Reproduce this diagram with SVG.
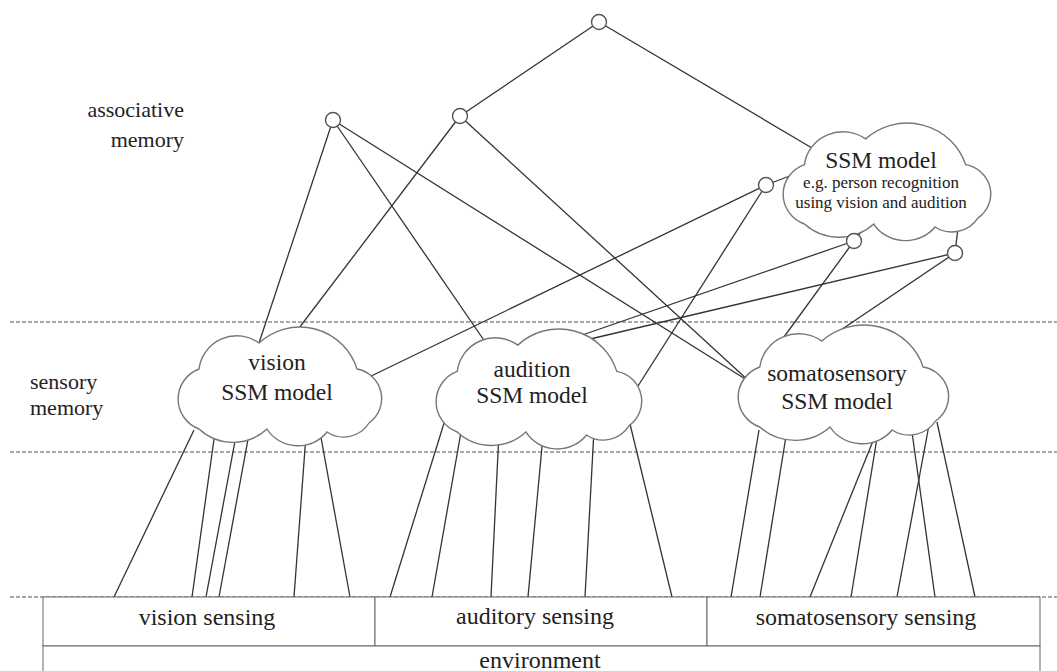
<svg xmlns="http://www.w3.org/2000/svg" width="1057" height="671" viewBox="0 0 1057 671" font-family="'Liberation Serif', serif">
<style>
.dash{stroke:#555;stroke-width:1.2;stroke-dasharray:4 2;fill:none}
.con{stroke:#333;stroke-width:1.3;fill:none}
.cloud{fill:#fff;stroke:#777;stroke-width:1.4}
.node{fill:#fff;stroke:#555;stroke-width:1.4}
.box{fill:#fff;stroke:#666;stroke-width:1}
.lbl{font-size:22px;fill:#222}
.big{font-size:23.5px;text-anchor:middle;fill:#222}
.sens{font-size:24px;text-anchor:middle;fill:#222}
.small{font-size:17px;text-anchor:middle;fill:#222}
</style>
<defs>
<path id="cloudShape" d="M22,38 A38,38 0 0 1 82,12 A60,60 0 0 1 180,38 A30,30 0 0 1 192,92 A30,30 0 0 1 150,101 A36,34 0 0 1 90,98 A50,50 0 0 1 22,98 A32,32 0 0 1 22,38 Z"/>
</defs>
<rect width="1057" height="671" fill="#fff"/>
<g id="layers">
<line class="dash" x1="10" y1="322" x2="1057" y2="322"/>
<line class="dash" x1="10" y1="452" x2="1057" y2="452"/>
<line class="dash" x1="10" y1="597" x2="1057" y2="597"/>
<text class="lbl" style="font-family:'Liberation Serif',serif" x="184" y="117" text-anchor="end">associative</text>
<text class="lbl" style="font-family:'Liberation Serif',serif" x="184" y="147" text-anchor="end">memory</text>
<text class="lbl" style="font-family:'Liberation Serif',serif" x="30" y="389">sensory</text>
<text class="lbl" style="font-family:'Liberation Serif',serif" x="30" y="415">memory</text>
</g>
<g id="connectors">
<line class="con" x1="599" y1="22" x2="460" y2="116"/>
<line class="con" x1="599" y1="22" x2="812" y2="148"/>
<line class="con" x1="460" y1="116" x2="293" y2="336"/>
<line class="con" x1="460" y1="116" x2="750" y2="382"/>
<line class="con" x1="333" y1="120" x2="258" y2="346"/>
<line class="con" x1="333" y1="120" x2="492" y2="352"/>
<line class="con" x1="333" y1="120" x2="750" y2="382"/>
<line class="con" x1="766" y1="185" x2="795" y2="174"/>
<line class="con" x1="766" y1="185" x2="365" y2="379"/>
<line class="con" x1="766" y1="185" x2="638" y2="386"/>
<line class="con" x1="854" y1="241" x2="870" y2="220"/>
<line class="con" x1="854" y1="241" x2="565" y2="341"/>
<line class="con" x1="854" y1="241" x2="781" y2="341"/>
<line class="con" x1="955" y1="253" x2="958" y2="228"/>
<line class="con" x1="955" y1="253" x2="586" y2="340"/>
<line class="con" x1="955" y1="253" x2="823" y2="342"/>
<line class="con" x1="114" y1="597" x2="194" y2="430"/>
<line class="con" x1="192" y1="597" x2="215" y2="432"/>
<line class="con" x1="206" y1="597" x2="238" y2="425"/>
<line class="con" x1="219" y1="597" x2="251" y2="423"/>
<line class="con" x1="294" y1="597" x2="306" y2="435"/>
<line class="con" x1="350" y1="597" x2="320" y2="432"/>
<line class="con" x1="390" y1="597" x2="445" y2="420"/>
<line class="con" x1="432" y1="597" x2="461" y2="432"/>
<line class="con" x1="491" y1="597" x2="499" y2="432"/>
<line class="con" x1="528" y1="597" x2="543" y2="436"/>
<line class="con" x1="585" y1="597" x2="594" y2="430"/>
<line class="con" x1="672" y1="597" x2="630" y2="424"/>
<line class="con" x1="731" y1="597" x2="759" y2="430"/>
<line class="con" x1="760" y1="597" x2="787" y2="430"/>
<line class="con" x1="810" y1="597" x2="875" y2="436"/>
<line class="con" x1="851" y1="597" x2="877" y2="438"/>
<line class="con" x1="897" y1="597" x2="929" y2="425"/>
<line class="con" x1="935" y1="597" x2="911" y2="425"/>
<line class="con" x1="975" y1="597" x2="937" y2="422"/>
</g>
<g id="vision-cloud">
<use href="#cloudShape" class="cloud" transform="translate(177,331)"/>
<text class="big" style="font-family:'Liberation Serif',serif" x="277" y="370">vision</text>
<text class="big" style="font-family:'Liberation Serif',serif" x="277" y="400">SSM model</text>
</g>
<g id="audition-cloud">
<use href="#cloudShape" class="cloud" transform="translate(435,333) scale(1.01,1.01)"/>
<text class="big" style="font-family:'Liberation Serif',serif" x="532" y="377">audition</text>
<text class="big" style="font-family:'Liberation Serif',serif" x="532" y="403">SSM model</text>
</g>
<g id="somato-cloud">
<use href="#cloudShape" class="cloud" transform="translate(737,329) scale(1.034,1)"/>
<text class="big" style="font-family:'Liberation Serif',serif" x="837" y="381">somatosensory</text>
<text class="big" style="font-family:'Liberation Serif',serif" x="837" y="409">SSM model</text>
</g>
<g id="ssm-cloud">
<use href="#cloudShape" class="cloud" transform="translate(782,127) scale(1.02,0.99)"/>
<text class="big" style="font-family:'Liberation Serif',serif" x="881" y="168">SSM model</text>
<text class="small" style="font-family:'Liberation Serif',serif" x="881" y="188">e.g. person recognition</text>
<text class="small" style="font-family:'Liberation Serif',serif" x="881" y="208">using vision and audition</text>
</g>
<g id="nodes">
<circle id="n-top" class="node" cx="599" cy="22" r="7.5"/>
<circle id="n-mid" class="node" cx="460" cy="116" r="7.5"/>
<circle id="n-left" class="node" cx="333" cy="120" r="7.5"/>
<circle id="n-r1" class="node" cx="766" cy="185" r="7.5"/>
<circle id="n-r2" class="node" cx="854" cy="241" r="7.5"/>
<circle id="n-r3" class="node" cx="955" cy="253" r="7.5"/>
</g>
<g id="sensing">
<rect class="box" x="43" y="597" width="332" height="49"/>
<rect class="box" x="375" y="597" width="332" height="49"/>
<rect class="box" x="707" y="597" width="333" height="49"/>
<text class="sens" style="font-family:'Liberation Serif',serif" x="207" y="625">vision sensing</text>
<text class="sens" style="font-family:'Liberation Serif',serif" x="535" y="624">auditory sensing</text>
<text class="sens" style="font-family:'Liberation Serif',serif" x="866" y="625">somatosensory sensing</text>
</g>
<g id="environment">
<rect class="box" x="43" y="646" width="997" height="30"/>
<text class="sens" style="font-family:'Liberation Serif',serif" x="540" y="668">environment</text>
</g>
</svg>
